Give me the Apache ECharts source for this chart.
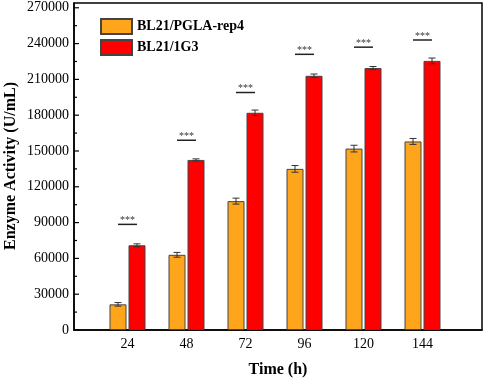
<!DOCTYPE html>
<html>
<head>
<meta charset="utf-8">
<script src="https://cdn.jsdelivr.net/npm/echarts@6/dist/echarts.min.js"></script>
<style>
  html, body { margin: 0; padding: 0; background: #fff; }
  #chart { width: 484px; height: 381px; }
</style>
</head>
<body>
<div id="chart"></div>
<script>
const times = ['24', '48', '72', '96', '120', '144'];
const seriesNames = ['BL21/PGLA-rep4', 'BL21/1G3'];
const rep4Mean = [21500, 63000, 108000, 135000, 152000, 158000];
const rep4Err = [1500, 2000, 2500, 2800, 2800, 2500];
const g3Mean = [71000, 142500, 182000, 213000, 219500, 225500];
const g3Err = [1200, 900, 2300, 1500, 1300, 2400];
const sigLevel = [88500, 159000, 199000, 231000, 237000, 243000];
const sigMark = ['***', '***', '***', '***', '***', '***'];
const majorTicks = [0, 30000, 60000, 90000, 120000, 150000, 180000, 210000, 240000, 270000];
const minorTicks = [15000, 45000, 75000, 105000, 135000, 165000, 195000, 225000, 255000];
const yTickMax = 270000;

const font = "'Liberation Serif', 'Times New Roman', serif";
const colors = ['#FFA51C', '#FF0000'];
const barW = 17;
const barGapPx = 2;
const shift = (barW + barGapPx) / 2;
const yMax = 274000;

const chart = echarts.init(document.getElementById('chart'));

// error bar drawn at the centre of one bar of the pair
function errorBars(offset) {
  return function (params, api) {
    const x = api.value(0), m = api.value(1), e = api.value(2);
    const hi = api.coord([x, m + e]);
    const lo = api.coord([x, m - e]);
    const cx = hi[0] + offset;
    const style = { stroke: '#333', lineWidth: 1 };
    return {
      type: 'group',
      children: [
        { type: 'line', shape: { x1: cx, y1: hi[1], x2: cx, y2: lo[1] }, style },
        { type: 'line', shape: { x1: cx - 3.5, y1: hi[1], x2: cx + 3.5, y2: hi[1] }, style },
        { type: 'line', shape: { x1: cx - 3.5, y1: lo[1], x2: cx + 3.5, y2: lo[1] }, style }
      ]
    };
  };
}

// ticks pointing into the plot from the left axis
function tickMarks(len) {
  return function (params, api) {
    const p = api.coord([api.value(0), api.value(1)]);
    return {
      type: 'line',
      shape: { x1: p[0], y1: p[1], x2: p[0] + len, y2: p[1] },
      style: { stroke: '#000', lineWidth: 1.2 }
    };
  };
}

const nameStyle = { text: '', fontFamily: font, fontWeight: 'bold', fontSize: 16, fill: '#000',
  align: 'center', verticalAlign: 'middle' };

chart.setOption({
  animation: false,
  textStyle: { fontFamily: font },
  grid: [
    // frame + y axis
    { left: 74, right: 2, top: 3, bottom: 51,
      show: true, borderColor: '#000', borderWidth: 1.5, backgroundColor: 'transparent' },
    // bars
    { left: 98, right: 32, top: 3, bottom: 51 }
  ],
  legend: {
    left: 100, top: 18, orient: 'vertical', padding: 0,
    data: seriesNames,
    icon: 'rect', itemWidth: 31, itemHeight: 15, itemGap: 4,
    textStyle: { fontFamily: font, fontWeight: 'bold', fontSize: 14, color: '#000' }
  },
  // axis titles
  graphic: [
    { type: 'text', x: 11, y: 166, rotation: Math.PI / 2,
      style: Object.assign({}, nameStyle, { text: 'Enzyme Activity (U/mL)' }) },
    { type: 'text', x: 278, y: 370,
      style: Object.assign({}, nameStyle, { text: 'Time (h)' }) }
  ],
  xAxis: [
    {
      gridIndex: 0, type: 'value', min: 0, max: 1,
      axisLine: { show: true, lineStyle: { color: '#000', width: 1.5 } },
      axisTick: { show: false }, axisLabel: { show: false }, splitLine: { show: false }
    },
    {
      gridIndex: 1, type: 'category', data: times, boundaryGap: true,
      axisLine: { show: false }, axisTick: { show: false },
      axisLabel: { fontFamily: font, fontSize: 14, color: '#000', margin: 7 },
      splitLine: { show: false }
    }
  ],
  yAxis: [
    {
      gridIndex: 0, type: 'value', min: 0, max: yMax, interval: 30000,
      axisLine: { show: true, lineStyle: { color: '#000', width: 1.5 } },
      axisTick: { show: false },
      axisLabel: {
        fontFamily: font, fontSize: 14, color: '#000', margin: 5,
        formatter: v => (v > yTickMax ? '' : String(v))
      },
      splitLine: { show: false }
    },
    {
      gridIndex: 1, type: 'value', min: 0, max: yMax, show: false, splitLine: { show: false }
    }
  ],
  series: [
    {
      name: seriesNames[0], type: 'bar', xAxisIndex: 1, yAxisIndex: 1,
      barWidth: barW, barGap: (barGapPx / barW * 100) + '%',
      itemStyle: { color: colors[0], borderColor: '#444', borderWidth: 1 },
      data: rep4Mean
    },
    {
      name: seriesNames[1], type: 'bar', xAxisIndex: 1, yAxisIndex: 1,
      barWidth: barW, barGap: (barGapPx / barW * 100) + '%',
      itemStyle: { color: colors[1], borderColor: '#444', borderWidth: 1 },
      data: g3Mean
    },
    {
      type: 'custom', xAxisIndex: 1, yAxisIndex: 1, renderItem: errorBars(-shift), z: 5,
      data: times.map((t, i) => [i, rep4Mean[i], rep4Err[i]])
    },
    {
      type: 'custom', xAxisIndex: 1, yAxisIndex: 1, renderItem: errorBars(shift), z: 5,
      data: times.map((t, i) => [i, g3Mean[i], g3Err[i]])
    },
    {
      type: 'custom', xAxisIndex: 1, yAxisIndex: 1, z: 5,
      renderItem: function (params, api) {
        const p = api.coord([api.value(0), api.value(1)]);
        return {
          type: 'group',
          children: [
            { type: 'line', shape: { x1: p[0] - 9.5, y1: p[1], x2: p[0] + 9.5, y2: p[1] },
              style: { stroke: '#222', lineWidth: 1.5 } },
            { type: 'text', x: p[0], y: p[1] + 1,
              style: { text: sigMark[params.dataIndex], fontFamily: font, fontSize: 10,
                       fill: '#333', align: 'center', verticalAlign: 'bottom' } }
          ]
        };
      },
      data: times.map((t, i) => [i, sigLevel[i]])
    },
    {
      type: 'custom', xAxisIndex: 0, yAxisIndex: 0, z: 6, clip: false,
      renderItem: tickMarks(5),
      data: majorTicks.map(v => [0, v])
    },
    {
      type: 'custom', xAxisIndex: 0, yAxisIndex: 0, z: 6, clip: false,
      renderItem: tickMarks(3),
      data: minorTicks.map(v => [0, v])
    }
  ]
});
</script>
</body>
</html>
